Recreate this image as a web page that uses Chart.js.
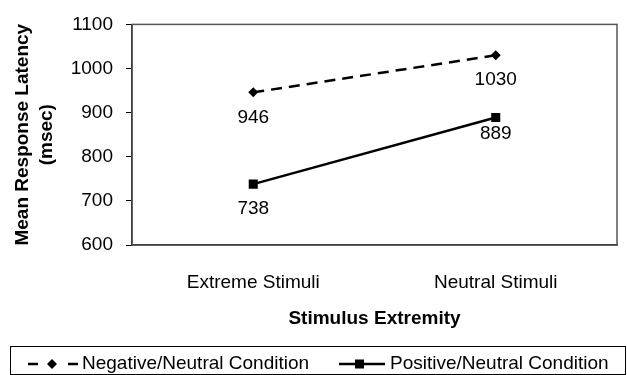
<!DOCTYPE html>
<html>
<head>
<meta charset="utf-8">
<script src="https://cdn.jsdelivr.net/npm/chart.js@4/dist/chart.umd.min.js"></script>
<style>
  html, body { margin: 0; padding: 0; background: #fff; }
  #wrap { width: 627px; height: 375px; position: relative; }
</style>
</head>
<body>
<div id="wrap"><canvas id="chart"></canvas></div>
<script>
// --- Données ---
const categories = ['Extreme Stimuli', 'Neutral Stimuli'];
const negativeValues = [946, 1030];
const positiveValues = [738, 889];
const seriesNames = ['Negative/Neutral Condition', 'Positive/Neutral Condition'];
const yMin = 600, yMax = 1100, yStep = 100;

const FONT = '"Liberation Sans", Arial, sans-serif';
Chart.defaults.font.family = FONT;
Chart.defaults.color = '#000';

// Étiquettes de valeur sous chaque point
const valueLabels = {
    id: 'valueLabels',
    afterDatasetsDraw(chart) {
        const ctx = chart.ctx;
        ctx.save();
        ctx.font = '19px ' + FONT;
        ctx.fillStyle = '#000';
        ctx.textAlign = 'center';
        ctx.textBaseline = 'middle';
        chart.data.datasets.forEach((ds, i) => {
            chart.getDatasetMeta(i).data.forEach((pt, j) => {
                const off = ds.labelOffsets ? ds.labelOffsets[j] : 24;
                ctx.fillText(String(ds.data[j]), pt.x, pt.y + off);
            });
        });
        ctx.restore();
    }
};

// Cadre de la zone de tracé + légende encadrée
const frameAndLegend = {
    id: 'frameAndLegend',
    beforeDatasetsDraw(chart) {
        const { ctx, chartArea: a } = chart;
        ctx.save();
        ctx.strokeStyle = '#555';
        ctx.lineWidth = 1.5;
        ctx.strokeRect(a.left, a.top, a.right - a.left, a.bottom - a.top);
        ctx.restore();
    },
    afterDraw(chart) {
        const ctx = chart.ctx;
        ctx.save();
        ctx.strokeStyle = '#000';
        ctx.lineWidth = 1;
        ctx.strokeRect(10.5, 346.5, 615, 28);

        const y = 364;
        ctx.font = '19px ' + FONT;
        ctx.textBaseline = 'middle';
        ctx.fillStyle = '#000';

        // série 1 : tirets + losange
        ctx.lineWidth = 2.5;
        ctx.setLineDash([10, 30]);
        ctx.beginPath(); ctx.moveTo(28, y); ctx.lineTo(78, y); ctx.stroke();
        ctx.setLineDash([]);
        ctx.beginPath();
        ctx.moveTo(52, y - 5); ctx.lineTo(57, y); ctx.lineTo(52, y + 5); ctx.lineTo(47, y);
        ctx.closePath(); ctx.fill();
        ctx.fillText(seriesNames[0], 82, y);

        // série 2 : trait plein + carré
        ctx.beginPath(); ctx.moveTo(339, y); ctx.lineTo(385, y); ctx.stroke();
        ctx.fillRect(355, y - 4.5, 9, 9);
        ctx.fillText(seriesNames[1], 390, y);
        ctx.restore();
    }
};

new Chart(document.getElementById('chart'), {
    type: 'line',
    data: {
        labels: categories,
        datasets: [{
            label: seriesNames[0],
            data: negativeValues,
            borderColor: '#000',
            backgroundColor: '#000',
            borderWidth: 2.5,
            borderDash: [11, 7],
            pointStyle: 'rectRot',
            pointRadius: 5,
            pointBorderWidth: 0,
            labelOffsets: [25, 24]
        }, {
            label: seriesNames[1],
            data: positiveValues,
            borderColor: '#000',
            backgroundColor: '#000',
            borderWidth: 2.5,
            pointStyle: 'rect',
            pointRadius: 6.4,
            pointBorderWidth: 0,
            labelOffsets: [25, 16]
        }]
    },
    options: {
        responsive: true,
        maintainAspectRatio: false,
        animation: false,
        events: [],
        layout: { padding: { left: 0, right: 10, top: 21, bottom: 30 } },
        plugins: {
            legend: { display: false },
            tooltip: { enabled: false }
        },
        scales: {
            x: {
                offset: true,
                grid: { display: false },
                border: { color: '#000', width: 1.5 },
                ticks: { font: { size: 19 }, padding: 18, maxRotation: 0 },
                title: {
                    display: true,
                    text: 'Stimulus Extremity',
                    font: { size: 19, weight: 'bold' },
                    padding: { top: 0, bottom: 15 }
                },
                afterFit(scale) { scale.height = 100; }
            },
            y: {
                min: yMin,
                max: yMax,
                grid: { drawOnChartArea: false, drawTicks: true, tickLength: 6, color: '#000' },
                border: { color: '#000', width: 1.5 },
                ticks: {
                    stepSize: yStep,
                    font: { size: 19 },
                    padding: 13,
                    callback: (v) => String(v)
                },
                title: {
                    display: true,
                    text: ['Mean Response Latency', '(msec)'],
                    font: { size: 19, weight: 'bold', lineHeight: 1.3 },
                    padding: { top: 10, bottom: 0 }
                },
                afterFit(scale) { scale.width = 132; }
            }
        }
    },
    plugins: [valueLabels, frameAndLegend]
});
</script>
</body>
</html>
